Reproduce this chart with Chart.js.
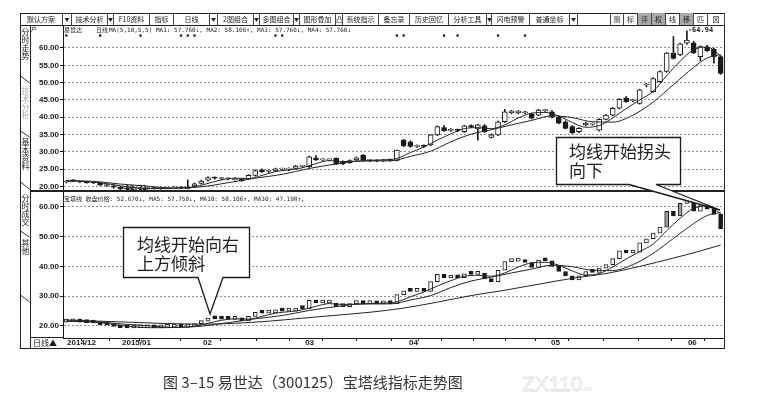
<!DOCTYPE html>
<html lang="zh-CN">
<head>
<meta charset="UTF-8">
<meta name="viewport" content="width=device-width, initial-scale=1.0">
<title>易世达（300125）宝塔线指标走势图</title>
<script src="https://cdn.jsdelivr.net/npm/chart.js@4.4.1/dist/chart.umd.min.js"></script>
<style>
body { margin: 0; background: #fff; }
#page { position: relative; width: 768px; height: 404px; overflow: hidden;
        font-family: "Noto Sans CJK SC", "Noto Sans", sans-serif; color: #1e1e1e; }
.a { position: absolute; }
.ln { position: absolute; background: #222; }
.btn { position: absolute; top: 13px; height: 12px; box-sizing: border-box; border-right: 1px solid #444;
       font-size: 7px; line-height: 12px; text-align: center; white-space: nowrap; overflow: hidden; color: #222; }
.dd { font-size: 5px; }
.g { background: #a9a9a9; }
.tab { position: absolute; left: 21px; width: 9px; writing-mode: vertical-rl; font-size: 8px; line-height: 9px; color: #222; }
.leg { position: absolute; font-family: "DejaVu Sans Mono", "Noto Sans CJK SC", monospace; font-size: 6px;
       line-height: 8px; white-space: pre; color: #222; }
canvas { position: absolute; }
</style>
</head>
<body>
<div id="page">

  <canvas id="upper" width="694" height="166" style="left:30px;top:25px"></canvas>
  <canvas id="lower" width="694" height="156" style="left:30px;top:192px"></canvas>

  <!-- window frame -->
  <div class="a" style="left:20px;top:13px;width:705px;height:336px;border:1px solid #222;box-sizing:border-box"></div>
  <div class="ln" style="left:20px;top:25px;width:705px;height:1px"></div>
  <div class="ln" style="left:30px;top:25px;width:1px;height:323px"></div>
  <div class="ln" style="left:30px;top:190px;width:694px;height:2px"></div>
  <div class="ln" style="left:30px;top:337px;width:33px;height:1px"></div>

  <!-- toolbar -->
  <div class="btn" style="left:20px;width:43px">默认方案</div>
  <div class="btn dd" style="left:63px;width:9px">▼</div>
  <div class="btn" style="left:72px;width:36px">技术分析</div>
  <div class="btn dd" style="left:108px;width:6px">▼</div>
  <div class="btn" style="left:114px;width:36px">F10资料</div>
  <div class="btn" style="left:150px;width:24px">指标</div>
  <div class="btn" style="left:174px;width:36px">日线</div>
  <div class="btn dd" style="left:210px;width:8px">▼</div>
  <div class="btn" style="left:218px;width:36px">2图组合</div>
  <div class="btn dd" style="left:254px;width:6px">▼</div>
  <div class="btn" style="left:260px;width:34px">多图组合</div>
  <div class="btn dd" style="left:294px;width:6px">▼</div>
  <div class="btn" style="left:300px;width:36px">图形叠加</div>
  <div class="btn" style="left:336px;width:7px">凸</div>
  <div class="btn" style="left:343px;width:36px">系统指示</div>
  <div class="btn" style="left:379px;width:31px">备忘录</div>
  <div class="btn" style="left:410px;width:39px">历史回忆</div>
  <div class="btn" style="left:449px;width:38px">分析工具</div>
  <div class="btn dd" style="left:487px;width:5px">▼</div>
  <div class="btn" style="left:492px;width:38px">闪电预警</div>
  <div class="btn" style="left:530px;width:40px">普通坐标</div>
  <div class="btn dd" style="left:570px;width:8px">▼</div>
  <div class="btn" style="left:610px;width:14px;border-left:1px solid #444">测</div>
  <div class="btn" style="left:624px;width:14px">标</div>
  <div class="btn g" style="left:638px;width:14px">评</div>
  <div class="btn g" style="left:652px;width:14px">权</div>
  <div class="btn" style="left:666px;width:14px">线</div>
  <div class="btn g" style="left:680px;width:14px">移</div>
  <div class="btn" style="left:694px;width:14px">匹</div>
  <div class="btn" style="left:708px;width:17px">図</div>

  <!-- side tabs -->
  <div class="tab" style="top:28px">分时走势</div>
  <div class="tab" style="top:87px;color:#aaa">技术分析</div>
  <div class="tab" style="top:138px">基本资料</div>
  <div class="tab" style="top:194px">分时成交</div>
  <div class="tab" style="top:239px">其他</div>

  <!-- panel legends -->
  <div class="leg" style="left:31px;top:25px">户</div>
  <div class="leg" style="left:64px;top:26px">易世达</div>
  <div class="leg" style="left:96px;top:26px">日线</div>
  <div class="leg" style="left:109px;top:26px">MA(5,10,5,5) MA1: 57.760↓, MA2: 58.106↑, MA3: 57.760↓, MA4: 57.760↓</div>
  <div class="leg" style="left:64px;top:195px">宝塔线 收盘价格: 52.670↓, MA5: 57.750↓, MA10: 58.106↑, MA30: 47.198↑,</div>
  <div class="a" style="left:33px;top:337px;font-size:8px;line-height:11px">日线▲</div>

  <svg class="a" style="left:0;top:0" width="768" height="404" viewBox="0 0 768 404">
    <g stroke="#333" stroke-width="1" fill="none">
      <path d="M20.5 76 L29.5 83" />
      <path d="M20.5 131 L29.5 137" />
      <path d="M20.5 182 L29.5 189" />
      <path d="M20.5 231 L29.5 237" />
      <path d="M20.5 295 L29.5 302" />
    </g>
    <g font-family="Noto Sans CJK SC, sans-serif" fill="#1e1e1e">
      <path d="M123.5 227.5 H249.5 V277.5 H223 L210 314 L198 277.5 H123.5 Z" fill="#fff" stroke="#1a1a1a" stroke-width="1.3"/>
      <text x="137" y="251" font-size="17">均线开始向右</text>
      <text x="137" y="270" font-size="17">上方倾斜</text>
      <path d="M556.5 137.5 H680.5 V184.5 H656 L720 210 L629 184.5 H556.5 Z" fill="#fff" stroke="#1a1a1a" stroke-width="1.3"/>
      <text x="569" y="158" font-size="17">均线开始拐头</text>
      <text x="569" y="177" font-size="17">向下</text>
      <text x="163" y="388" font-size="15" fill="#333">图 3–15 易世达（300125）宝塔线指标走势图</text>
      <text x="522" y="391" font-size="21" fill="none" stroke="#dedede" stroke-width="0.8" font-family="Liberation Sans, sans-serif">ZX110</text>
      <text x="581" y="391" font-size="8" fill="#dedede" font-family="Liberation Sans, sans-serif">.cn</text>
    </g>
  </svg>
</div>

<script>
// daily candles, 2014/12 .. 2015/06
const opens  = [21.3,21.9,21.4,21.2,21.1,20.9,20.3,20.2,19.8,19.4, 19.3,19.4,19.4,19.5,19.4,19.5,19.6,19.7,19.4,20.2,
                20.9,21.8,22.5,22.3,22.2,22.0,22.2,22.2,23.2,24.8, 24.4,24.5,25.0,25.0,25.2,25.8,25.7,28.3,27.7,27.7,
                28.1,27.2,26.9,27.7,29.0,27.5,27.5,27.4,27.6,27.5, 33.4,32.9,31.6,31.7,32.0,34.9,37.0,36.2,36.3,35.8,
                37.4,36.6,37.5,34.2,34.9,38.7,41.3,41.3,41.3,40.9, 40.6,41.9,41.6,40.0,38.7,37.3,35.8,37.8,38.0,36.3,
                39.4,40.6,42.6,45.5,44.8,44.0,49.3,47.4,50.3,53.2, 58.5,58.0,61.4,61.5,57.5,60.2,59.6,57.5];
const highs  = [21.7,22.0,21.6,21.4,21.3,21.1,20.6,20.4,20.0,19.7, 19.6,19.6,19.7,19.7,19.7,19.8,19.9,19.9,21.9,21.0,
                21.8,22.8,22.8,22.6,22.5,22.5,22.4,23.4,24.8,25.1, 24.7,25.3,25.3,25.4,26.1,26.1,28.8,28.9,28.0,28.0,
                28.3,27.4,27.7,28.5,29.2,27.8,27.7,27.8,27.9,30.5, 33.6,33.2,32.0,32.0,35.0,37.5,37.6,36.7,36.6,37.7,
                37.8,38.0,37.9,35.2,38.9,42.3,42.0,42.0,41.7,41.2, 42.3,42.3,41.9,40.3,39.0,37.6,37.0,38.6,38.4,39.6,
                40.8,42.8,45.4,46.0,45.2,48.1,49.8,51.4,53.4,58.7, 63.3,61.4,64.94,61.9,60.6,60.8,60.0,57.8];
const lows   = [21.0,21.4,21.1,20.9,20.8,20.3,20.0,19.5,18.22,19.0, 19.1,19.1,19.2,19.2,19.2,19.3,19.4,19.4,19.3,20.0,
                20.7,21.6,22.1,22.0,21.9,21.8,21.5,22.0,23.0,24.1, 24.0,24.3,24.7,24.6,25.0,25.5,25.5,27.5,27.4,27.4,
                26.3,26.3,26.7,27.5,27.3,27.2,27.1,27.2,27.3,27.4, 31.5,31.3,31.3,31.3,31.8,34.7,35.9,35.9,35.8,35.6,
                37.0,33.4,35.6,34.0,34.7,38.5,41.0,41.0,41.0,39.5, 40.4,41.6,39.8,38.1,36.6,35.3,35.5,37.5,37.7,36.0,
                39.2,40.4,42.4,44.3,44.4,43.8,48.8,47.2,50.1,53.0, 56.8,57.8,61.0,58.4,56.3,59.0,55.6,52.4];
const closes = [21.4,21.5,21.3,21.1,21.0,20.4,20.3,19.8,19.4,19.3, 19.4,19.4,19.5,19.4,19.5,19.6,19.7,19.6,19.8,20.8,
                21.6,22.6,22.4,22.3,22.2,22.3,21.7,23.2,24.6,24.3, 24.4,25.1,25.0,25.0,25.9,25.8,28.6,27.7,27.7,27.7,
                26.5,26.5,27.5,28.3,27.5,27.5,27.4,27.6,27.5,30.5, 31.8,31.6,31.7,31.6,34.9,37.3,36.1,36.3,36.2,37.5,
                37.3,37.8,35.8,34.9,38.7,41.6,41.8,41.8,41.3,39.7, 42.1,41.9,40.0,38.3,36.8,35.5,36.8,38.3,38.0,39.4,
                40.6,42.6,45.2,44.5,44.8,47.9,49.3,51.2,53.2,58.5, 57.0,61.2,62.3,58.6,60.4,59.2,57.5,52.67];

// moving average lines: [candle index, value]
const ma5  = [[0,21.6],[3,21.4],[5,21.1],[8,20.2],[11,19.5],[14,19.4],[17,19.6],[19,19.9],[21,20.9],[23,21.9],
              [25,22.4],[27,22.3],[29,23.2],[31,24.3],[33,24.8],[35,25.4],[37,26.6],[39,27.5],[41,27.2],[43,27.3],
              [45,27.5],[47,27.7],[49,28.1],[51,29.8],[53,31.4],[55,33.4],[57,35.2],[59,36.7],[61,37.0],[63,36.7],
              [65,37.8],[67,39.8],[69,41.2],[71,41.4],[73,40.4],[75,38.5],[77,37.1],[79,37.6],[81,39.8],[83,42.5],
              [85,45.0],[87,47.5],[89,52.0],[91,56.2],[93,59.5],[95,60.3],[97,57.75]];
const ma10 = [[0,21.7],[4,21.5],[8,20.7],[12,20.1],[16,19.5],[20,19.9],[24,21.1],[28,22.4],[32,23.5],[36,25.2],
              [40,26.5],[44,27.4],[48,27.4],[51,28.7],[54,30.2],[57,32.9],[60,35.1],[63,36.4],[66,37.8],[69,39.1],
              [72,40.4],[75,39.9],[78,38.7],[81,38.6],[84,40.6],[87,44.4],[90,49.4],[93,54.4],[95,57.1],[97,58.1]];
const ma30 = [[0,22.0],[5,21.6],[10,21.2],[15,20.8],[20,20.6],[25,20.9],[30,21.6],[35,22.6],[40,23.6],[45,24.6],
              [50,26.0],[55,28.0],[60,30.2],[65,32.0],[70,34.0],[75,36.0],[80,37.6],[85,40.0],[90,42.8],[94,45.2],[97,47.2]];

// info marks on top row, grey tower boxes
const mineIdx = [0, 5, 11, 17, 18, 19, 31, 32, 49, 50, 56, 58, 64, 68];
const mineLevel = 63.6;
const towerGray = [89, 91];

const upperTicks = [20, 25, 30, 35, 40, 45, 50, 55, 60];
const lowerTicks = [20, 30, 40, 50, 60];
const dateTickIdx = [0.1, 8.25, 20.25, 35.4, 50.8, 71.85, 92.15];
const dateTickLabels = ['2014/12', '2015/01', '02', '03', '04', '05', '06'];
const weekTickIdx = [4.5, 13.5, 25.5, 30.8, 40.5, 45.5, 53.5, 57.8, 62.9, 67.4, 77, 82.2, 87.4, 97.2];

window.addEventListener('load', setup);

const INK = '#1a1a1a';

function toPoints(list) {
    return list.map(p => ({ x: p[0], y: p[1] }));
}

function maLine(list) {
    return {
        type: 'line', data: toPoints(list), borderColor: '#262626', borderWidth: 1,
        pointRadius: 0, cubicInterpolationMode: 'monotone', order: 0
    };
}

function yAxis(min, max, values) {
    return {
        position: 'left', min: min, max: max,
        afterBuildTicks: axis => { axis.ticks = values.map(v => ({ value: v })); },
        afterFit: axis => { axis.width = 33; axis.paddingTop = 0; axis.paddingBottom = 0; },
        ticks: { callback: v => v.toFixed(2), color: INK, padding: 1,
                 font: { size: 8, weight: 'bold', family: '"Liberation Sans", Arial, sans-serif' } },
        grid: { color: '#8f8f8f', lineWidth: 1, tickLength: 3, tickColor: INK },
        border: { display: true, color: INK, width: 1, dash: [2, 2] }
    };
}

// high / low price notes on the candle panel
const hiLoLabels = {
    id: 'hiLoLabels',
    afterDatasetsDraw(chart) {
        const { ctx, chartArea, scales: { x, y } } = chart;
        const hi = Math.max(...highs), lo = Math.min(...lows);
        ctx.save();
        ctx.font = 'bold 7px "DejaVu Sans Mono", monospace';
        ctx.fillStyle = INK;
        ctx.textBaseline = 'middle';
        ctx.fillText('-' + hi.toFixed(2), x.getPixelForValue(highs.indexOf(hi)) + 1, y.getPixelForValue(hi) - 1);
        ctx.fillText('-' + lo.toFixed(2), x.getPixelForValue(lows.indexOf(lo)) + 1,
                     Math.min(y.getPixelForValue(lo), chartArea.bottom - 3));
        ctx.restore();
    }
};

function setup() {
    Chart.defaults.font.family = '"Liberation Sans", Arial, sans-serif';
    const last = closes.length - 0.5;

    new Chart(document.getElementById('upper'), {
        type: 'bar',
        data: {
            datasets: [
                maLine(ma5),
                maLine(ma10),
                {
                    data: closes.map((c, i) => ({ x: i, y: [opens[i], c] })),
                    backgroundColor: ctx => closes[ctx.dataIndex] >= opens[ctx.dataIndex] ? '#ffffff' : INK,
                    borderColor: INK, borderWidth: 1, borderSkipped: false,
                    barThickness: 5, minBarLength: 1, grouped: false, order: 1
                },
                {
                    data: highs.map((h, i) => ({ x: i, y: [lows[i], h] })),
                    backgroundColor: INK, barThickness: 1, grouped: false, order: 2
                },
                {
                    type: 'scatter', data: mineIdx.map(i => ({ x: i, y: mineLevel })),
                    pointStyle: 'rect', pointRadius: 1.6, backgroundColor: INK, borderWidth: 0, order: 0
                }
            ]
        },
        options: {
            responsive: false, animation: false,
            layout: { padding: 0, autoPadding: false },
            plugins: { legend: { display: false }, tooltip: { enabled: false } },
            scales: {
                x: { type: 'linear', display: false, min: -0.5, max: last, offset: false },
                y: yAxis(18.7, 66.64, upperTicks)
            }
        },
        plugins: [hiLoLabels]
    });

    new Chart(document.getElementById('lower'), {
        type: 'bar',
        data: {
            datasets: [
                maLine(ma5),
                maLine(ma10),
                maLine(ma30),
                {
                    // tower boxes run from the previous close to this close
                    data: closes.map((c, i) => ({ x: i, y: [i === 0 ? opens[0] : closes[i - 1], c] })),
                    backgroundColor: ctx => {
                        const i = ctx.dataIndex;
                        if (towerGray.includes(i)) return '#9c9c9c';
                        const prev = i === 0 ? opens[0] : closes[i - 1];
                        return closes[i] >= prev ? '#ffffff' : INK;
                    },
                    borderColor: INK, borderWidth: 1, borderSkipped: false,
                    barThickness: 4, minBarLength: 3, grouped: false, order: 1
                }
            ]
        },
        options: {
            responsive: false, animation: false,
            layout: { padding: 0, autoPadding: false },
            plugins: { legend: { display: false }, tooltip: { enabled: false } },
            scales: {
                x: {
                    type: 'linear', position: 'bottom', min: -0.5, max: last, offset: false,
                    afterBuildTicks: axis => {
                        axis.ticks = dateTickIdx.concat(weekTickIdx).sort((a, b) => a - b).map(v => ({ value: v }));
                    },
                    afterFit: axis => { axis.height = 10; axis.paddingLeft = 0; axis.paddingRight = 0; },
                    ticks: {
                        autoSkip: false, maxRotation: 0, align: 'start', padding: -3, color: INK,
                        font: { size: 8, weight: 'bold' },
                        callback: v => {
                            const k = dateTickIdx.indexOf(v);
                            return k >= 0 ? dateTickLabels[k] : '';
                        }
                    },
                    grid: { drawOnChartArea: false, tickLength: 3, tickColor: INK },
                    border: { display: true, color: INK, width: 1 }
                },
                y: yAxis(15.95, 65, lowerTicks)
            }
        }
    });
}
</script>
</body>
</html>
